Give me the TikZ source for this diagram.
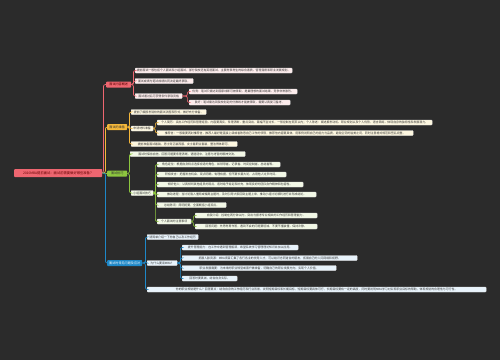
\documentclass[tikz,border=0pt]{standalone}
\usepackage{fontspec}
\newfontfamily\cjk{Noto Sans CJK SC}
\definecolor{bg}{HTML}{2B2B2B}
\definecolor{cred}{HTML}{EE6670}
\definecolor{cora}{HTML}{F4B73A}
\definecolor{cgre}{HTML}{8DC63F}
\definecolor{cblu}{HTML}{1E88C8}
\definecolor{pred}{HTML}{FDECEC}
\definecolor{pora}{HTML}{FDF7E0}
\definecolor{pgre}{HTML}{F2F8E6}
\definecolor{pblu}{HTML}{E8F3FB}
\tikzset{
  box/.style={anchor=west, inner sep=0pt, minimum height=5pt, rounded corners=0.8pt,
    font=\cjk\fontsize{2.9}{3.2}\selectfont, text=black!80, draw=white!90!black, line width=0.35pt},
  rbox/.style={box, fill=pred},
  obox/.style={box, fill=pora},
  gbox/.style={box, fill=pgre},
  bbox/.style={box, fill=pblu},
  topic/.style={anchor=west, inner sep=0pt, minimum height=6pt, rounded corners=0.8pt,
    font=\cjk\fontsize{3.1}{3.5}\selectfont},
  lnk/.style={line width=0.7pt, rounded corners=2pt},
}
\begin{document}
\begin{tikzpicture}[x=1pt,y=-1pt]
\fill[bg] (0,0) rectangle (500,360);
\useasboundingbox (0,0) rectangle (500,360);
% root
\node[topic, fill=cred, text=red!40!black, minimum width=88pt, minimum height=8pt, font=\cjk\fontsize{3.3}{3.8}\selectfont] (root) at (14,173) {2020MBA提前面试：面试前需要做好哪些准备？};
% branches
\node[topic, fill=cred, text=red!35!black, minimum width=25pt] (b1) at (106,84.5) {面试内容概述};
\node[topic, fill=cora, text=black!80, minimum width=20pt] (b2) at (107,127) {面试的准备};
\node[topic, fill=cgre, text=black!80, minimum width=20pt] (b3) at (107,173.5) {面试技巧};
\node[topic, fill=cblu, text=white, minimum width=35pt] (b4) at (107,263) {面试时常见问题及应对};
% red children
\node[rbox, minimum width=157pt] (c1) at (135,70.5) {提前面试一般包括个人面试和小组面试，部分院校还有英语面试，主要考察考生的综合素质、管理潜质和职业发展规划。};
\node[rbox, minimum width=58pt] (c2) at (135,81) {面试成绩与笔试成绩共同决定最终录取。};
\node[rbox, minimum width=47pt] (c3) at (135,96) {面试通过后可获得条件录取资格};
\node[rbox, minimum width=108pt] (c3a) at (189,91.5) {优秀：笔试只需达到国家线即可被录取，是最理想的面试结果，竞争非常激烈。};
\node[rbox, minimum width=101pt] (c3b) at (189,102.5) {良好：笔试需达到院校划定的分数线才能被录取，需要认真复习备考。};
% orange children
\node[obox, minimum width=75pt] (d1) at (131,112) {提前了解报考院校的面试流程和形式，做好充分准备。};
\node[obox, minimum width=22pt] (d2) at (131,128.5) {申请材料准备};
\node[obox, minimum width=275pt] (d2a) at (157,122.5) {个人简历：突出工作经历和管理经验，内容要真实，条理清晰，重点突出，篇幅不宜过长，一般控制在两页以内；个人陈述：阐述报考动机、职业规划以及个人优势，语言简练，体现自身的独特性和发展潜力。};
\node[obox, minimum width=256pt] (d2b) at (157,133) {推荐信：一般需要两封推荐信，推荐人最好是直接上级或者熟悉自己工作的领导，推荐信内容要具体，用事例说明自己的能力与品质，避免空洞的溢美之词，同时注意格式规范和签名完整。};
\node[obox, minimum width=106pt] (d3) at (131,144) {提前准备面试着装，男士穿正装西服，女士着职业套装，整洁得体即可。};
% green children
\node[gbox, minimum width=115pt] (e1) at (130,154) {面试时保持自信，回答问题要条理清晰，语速适中，注意与考官的眼神交流。};
\node[gbox, minimum width=22pt] (e2) at (131,193) {小组面试技巧};
\node[gbox, minimum width=123pt] (e2a) at (157,164.5) {角色定位：根据自身特点选择合适的角色，如领导者、记录者、时间控制者、总结者等。};
\node[gbox, minimum width=129pt] (e2b) at (157,174.5) {积极发言：把握发言机会，观点明确，有理有据，但不要长篇大论，占用他人过多时间。};
\node[gbox, minimum width=146pt] (e2c) at (157,184.5) {倾听他人：认真倾听其他组员的观点，适时给予肯定和补充，体现良好的团队合作精神和包容性。};
\node[gbox, minimum width=159pt] (e2d) at (157,194.5) {推动进程：当讨论陷入僵局或偏离主题时，及时引导大家回到主题上来，推动小组讨论顺利进行并形成结论。};
\node[gbox, minimum width=69pt] (e2e) at (157,205) {总结陈词：简明扼要，全面概括小组观点。};
\node[gbox, minimum width=34pt] (e2f) at (157,221.5) {个人面试的注意事项};
\node[gbox, minimum width=122pt] (e2f1) at (195,215.5) {自我介绍：控制在两分钟以内，突出与报考专业相关的工作经历和管理能力。};
\node[gbox, minimum width=122pt] (e2f2) at (195,226.5) {回答问题：先思考再作答，遇到不会的问题要坦诚，不要不懂装懂，保持冷静。};
% blue children
\node[bbox, minimum width=51pt] (f1) at (147,237) {请简单介绍一下你自己以及工作经历};
\node[bbox, minimum width=30pt] (f2) at (147,263) {为什么要读MBA？};
\node[bbox, minimum width=116pt] (f2a) at (182,247.5) {提升管理能力：在工作中遇到管理瓶颈，希望系统学习管理理论知识并加以应用。};
\node[bbox, minimum width=175pt] (f2b) at (182,258) {拓展人脉资源：MBA项目汇集了各行各业的优秀人才，可以结识志同道合的朋友，拓展自己的人际网络和视野。};
\node[bbox, minimum width=154pt] (f2c) at (182,268) {职业发展需要：为未来的职业转型或晋升做准备，明确自己的职业发展方向，实现个人价值。};
\node[bbox, minimum width=55pt] (f2d) at (182,278.5) {回答时要真诚，结合自身实际。};
\node[bbox, minimum width=339pt] (f3) at (147,289.5) {你的职业规划是什么？回答要点：结合自身的工作经历和行业背景，说明短期目标和长期目标，短期目标要具体可行，长期目标要有一定的高度，同时要说明MBA学习对实现职业目标的帮助，体现规划的合理性与可行性。};
% trunk connectors
\draw[lnk, cred] (root.east) -- ++(1,0) |- (b1.west);
\draw[lnk, cora] (root.east) -- ++(3,0) |- (b2.west);
\draw[lnk, cgre] (root.east) -- (b3.west);
\draw[lnk, cblu] (root.east) -- ++(3,0) |- (b4.west);
% red
\foreach \c in {c1,c2,c3} \draw[lnk, cred] (b1.east) -- ++(2,0) |- (\c.west);
\foreach \c in {c3a,c3b} \draw[lnk, cred] (c3.east) -- ++(5,0) |- (\c.west);
% orange
\foreach \c in {d1,d2,d3} \draw[lnk, cora] (b2.east) -- ++(2,0) |- (\c.west);
\foreach \c in {d2a,d2b} \draw[lnk, cora] (d2.east) -- ++(2,0) |- (\c.west);
% green
\foreach \c in {e1,e2} \draw[lnk, cgre] (b3.east) -- ++(2,0) |- (\c.west);
\foreach \c in {e2a,e2b,e2c,e2d,e2e,e2f} \draw[lnk, cgre] (e2.east) -- ++(2,0) |- (\c.west);
\foreach \c in {e2f1,e2f2} \draw[lnk, cgre] (e2f.east) -- ++(2,0) |- (\c.west);
% blue
\foreach \c in {f1,f2,f3} \draw[lnk, cblu] (b4.east) -- ++(3,0) |- (\c.west);
\foreach \c in {f2a,f2b,f2c,f2d} \draw[lnk, cblu] (f2.east) -- ++(3,0) |- (\c.west);
\end{tikzpicture}
\end{document}
